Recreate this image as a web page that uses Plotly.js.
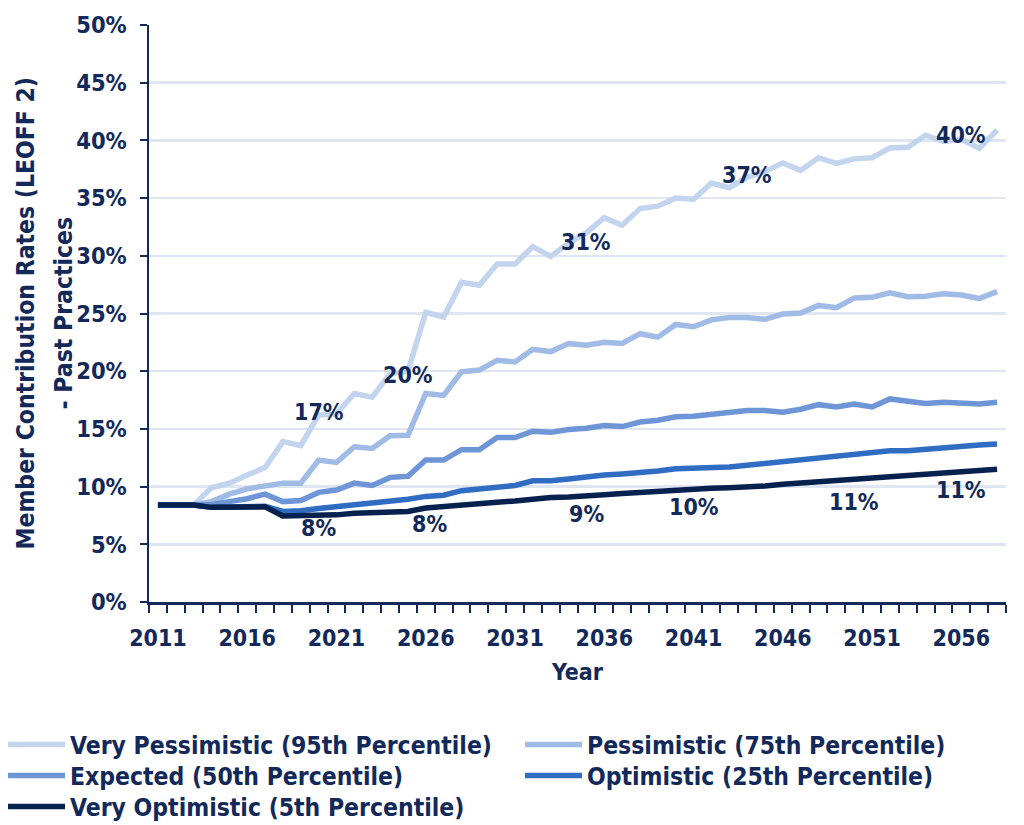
<!DOCTYPE html>
<html>
<head>
<meta charset="utf-8">
<script src="https://cdn.plot.ly/plotly-3.0.1.min.js"></script>
<style>html,body{margin:0;padding:0;background:#fff;}#chart{width:1024px;height:825px;}</style>
</head>
<body>
<div id="chart"></div>
<script>
const years = [];
for (let y = 2011; y <= 2058; y++) years.push(y);

const seriesNames = [
  "Very Pessimistic (95th Percentile)",
  "Pessimistic (75th Percentile)",
  "Expected (50th Percentile)",
  "Optimistic (25th Percentile)",
  "Very Optimistic (5th Percentile)"
];

const veryPessimistic = [8.4, 8.4, 8.4, 9.9, 10.3, 11.0, 11.65, 13.9, 13.55, 16.2, 16.3, 18.07, 17.75, 19.8, 20.0, 25.1, 24.7, 27.7, 27.45, 29.3, 29.3, 30.8, 29.95, 31.1, 32.0, 33.3, 32.65, 34.1, 34.3, 35.0, 34.9, 36.3, 35.9, 36.8, 37.3, 38.05, 37.4, 38.5, 38.0, 38.4, 38.5, 39.35, 39.4, 40.45, 39.9, 40.1, 39.3, 40.9];
const pessimistic = [8.4, 8.4, 8.4, 8.7, 9.35, 9.8, 10.1, 10.3, 10.3, 12.3, 12.1, 13.45, 13.3, 14.4, 14.45, 18.07, 17.9, 19.95, 20.1, 20.95, 20.8, 21.9, 21.7, 22.4, 22.25, 22.5, 22.4, 23.25, 22.95, 24.05, 23.85, 24.45, 24.65, 24.65, 24.5, 24.95, 25.05, 25.7, 25.5, 26.35, 26.4, 26.8, 26.45, 26.5, 26.7, 26.6, 26.3, 26.9];
const expected = [8.4, 8.4, 8.4, 8.45, 8.7, 8.95, 9.35, 8.7, 8.8, 9.5, 9.7, 10.3, 10.1, 10.8, 10.9, 12.3, 12.3, 13.2, 13.2, 14.25, 14.25, 14.8, 14.7, 14.95, 15.05, 15.3, 15.2, 15.6, 15.75, 16.05, 16.1, 16.3, 16.5, 16.6, 16.6, 16.45, 16.7, 17.1, 16.9, 17.15, 16.9, 17.6, 17.4, 17.2, 17.3, 17.2, 17.15, 17.3];
const optimistic = [8.4, 8.4, 8.4, 8.2, 8.2, 8.25, 8.3, 7.85, 7.9, 8.1, 8.25, 8.45, 8.6, 8.75, 8.9, 9.15, 9.25, 9.65, 9.8, 9.95, 10.1, 10.5, 10.5, 10.65, 10.85, 11.0, 11.1, 11.2, 11.35, 11.55, 11.6, 11.6, 11.7, 11.85, 12.0, 12.15, 12.35, 12.5, 12.6, 12.8, 12.95, 13.1, 13.1, 13.25, 13.4, 13.55, 13.6, 13.7];
const veryOptimistic = [8.4, 8.4, 8.4, 8.2, 8.2, 8.2, 8.25, 7.45, 7.45, 7.5, 7.55, 7.7, 7.75, 7.8, 7.85, 8.15, 8.3, 8.45, 8.55, 8.65, 8.75, 8.95, 9.05, 9.1, 9.15, 9.3, 9.4, 9.5, 9.6, 9.75, 9.8, 9.85, 9.9, 9.95, 10.05, 10.2, 10.3, 10.4, 10.5, 10.65, 10.75, 10.9, 11.0, 11.05, 11.15, 11.25, 11.35, 11.5];

const tickYears = [2011, 2016, 2021, 2026, 2031, 2036, 2041, 2046, 2051, 2056];

// point labels
const labelTexts = ["17%", "20%", "31%", "37%", "40%", "8%", "8%", "9%", "10%", "11%", "11%"];
const labelYears = [2020, 2025, 2035, 2044, 2056, 2020, 2026.2, 2035, 2041, 2050, 2056];
const labelValues = [16.5, 19.7, 31.2, 37.0, 40.5, 6.4, 6.75, 7.6, 8.2, 8.7, 9.7];

const colors = ["#c3d4ee", "#a0bbe6", "#6e96d6", "#2f6cc2", "#07214f"];
const navy = "#12295a";
const FONT = "DejaVu Sans Condensed, DejaVu Sans, sans-serif";

// legend placement: one legend box per entry (column, row)
const legendIds = ["legend", "legend2", "legend3", "legend4", "legend5"];
const legendCol = [0, 1, 0, 1, 0];
const legendRow = [0, 0, 1, 1, 2];

const allSeries = [veryPessimistic, pessimistic, expected, optimistic, veryOptimistic];
const data = allSeries.map((vals, k) => ({
  type: "scatter",
  mode: "lines",
  x: years,
  y: vals,
  name: seriesNames[k],
  legend: legendIds[k],
  line: {color: colors[k], width: 5.5}
}));

const annotations = labelTexts.map((t, k) => ({
  x: labelYears[k], y: labelValues[k], xref: "x", yref: "y",
  text: t, showarrow: false,
  font: {family: FONT, size: 23, weight: "bold", color: navy}
}));

annotations.push({
  xref: "paper", yref: "paper", x: (25 - 149) / 857, y: 0.5, xanchor: "center", yanchor: "middle",
  text: "Member Contribution Rates (LEOFF 2)", textangle: -90, showarrow: false,
  font: {family: FONT, size: 24.5, weight: "bold", color: navy}
});
annotations.push({
  xref: "paper", yref: "paper", x: (63 - 149) / 857, y: 0.5, xanchor: "center", yanchor: "middle",
  text: "- Past Practices", textangle: -90, showarrow: false,
  font: {family: FONT, size: 24.5, weight: "bold", color: navy}
});

const layout = {
  width: 1024, height: 825,
  margin: {l: 149, r: 18, t: 25, b: 223},
  paper_bgcolor: "#ffffff", plot_bgcolor: "#ffffff",
  font: {family: FONT, color: navy, size: 23, weight: "bold"},
  showlegend: true,
  xaxis: {
    type: "linear",
    range: [2010.5, 2058.5],
    tickmode: "array",
    tickvals: tickYears,
    ticktext: tickYears.map(String),
    ticks: "",
    showgrid: false,
    zeroline: false,
    showline: true, linecolor: navy, linewidth: 2.5,
    tickfont: {family: FONT, size: 23, weight: "bold", color: navy},
    ticklabelstandoff: 14,
    minor: {tickmode: "linear", tick0: 2010.5, dtick: 1, ticks: "outside", ticklen: 8, tickwidth: 2, tickcolor: navy, showgrid: false},
    title: {text: "Year", font: {family: FONT, size: 23, weight: "bold", color: navy}, standoff: 14}
  },
  yaxis: {
    range: [0, 50],
    tickmode: "linear", tick0: 0, dtick: 5,
    ticksuffix: "%",
    ticks: "outside", ticklen: 7, tickwidth: 2, tickcolor: navy,
    showgrid: true, gridcolor: "#dfe5f1", gridwidth: 2.5,
    zeroline: false,
    showline: true, linecolor: navy, linewidth: 2.5,
    tickfont: {family: FONT, size: 23.5, weight: "bold", color: navy},
    ticklabelstandoff: 8
  },
  annotations: annotations
};

const colX = [3, 520];
const rowTop = [722, 753, 784];
legendIds.forEach((id, k) => {
  layout[id] = {
    orientation: "h",
    xref: "container", yref: "container",
    x: colX[legendCol[k]] / 1024, y: 1 - rowTop[legendRow[k]] / 825,
    xanchor: "left", yanchor: "top",
    itemwidth: 57,
    font: {family: FONT, size: 24.5, weight: "bold", color: navy},
    bgcolor: "rgba(0,0,0,0)"
  };
});

Plotly.newPlot("chart", data, layout, {displayModeBar: false, staticPlot: true});
</script>
</body>
</html>
